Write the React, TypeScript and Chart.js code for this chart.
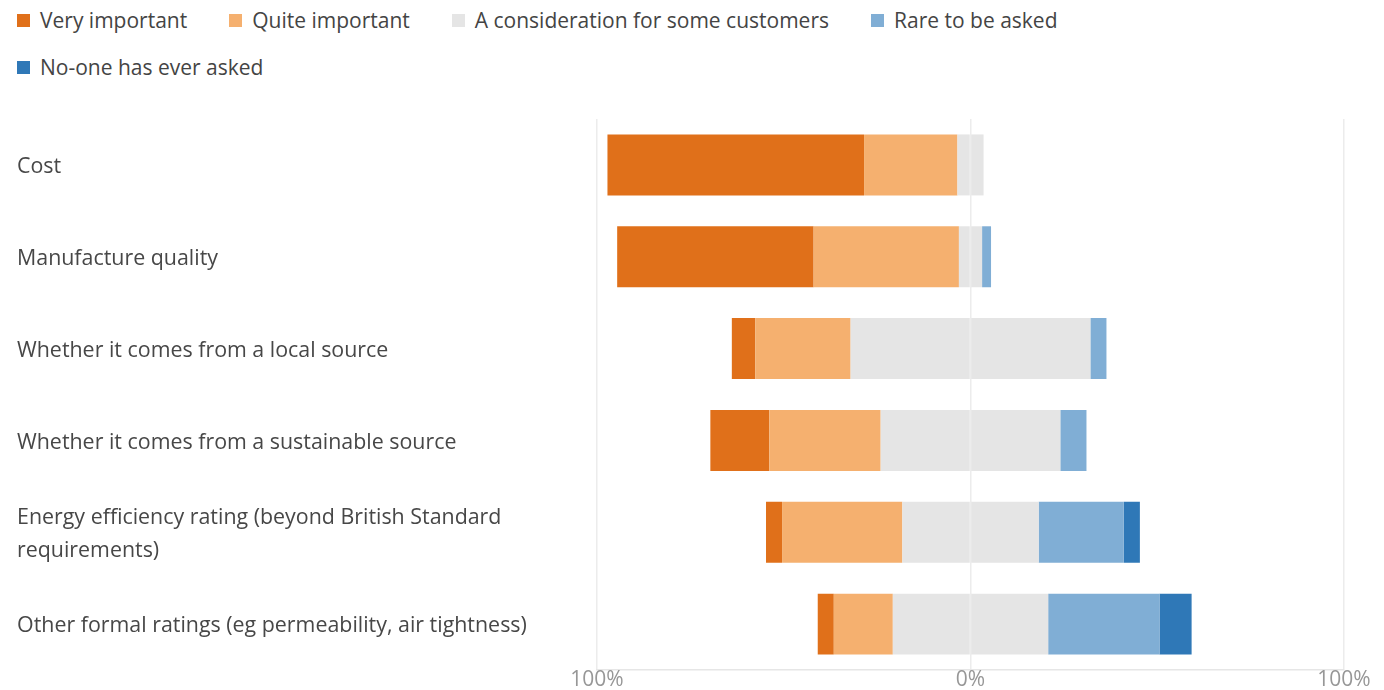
import React, { useEffect, useRef } from 'react';
import { Chart, registerables } from 'chart.js';

Chart.register(...registerables);

const categories: (string | string[])[] = [
  'Cost',
  'Manufacture quality',
  'Whether it comes from a local source',
  'Whether it comes from a sustainable source',
  ['Energy efficiency rating (beyond British Standard', 'requirements)'],
  'Other formal ratings (eg permeability, air tightness)',
];

const seriesNames = [
  'Very important',
  'Quite important',
  'A consideration for some customers',
  'Rare to be asked',
  'No-one has ever asked',
];

const seriesColors = ['#E0701A', '#F5B06F', '#E5E5E5', '#80AED5', '#2F78B7'];

// percentages
const veryImportant = [68.7, 52.6, 6.3, 15.8, 4.3, 4.3];
const quiteImportant = [25.0, 38.9, 25.5, 29.8, 32.2, 15.8];
const consideration = [7.0, 6.2, 64.2, 48.1, 36.5, 41.6];
const rareToBeAsked = [0, 2.4, 4.3, 7.0, 22.8, 29.8];
const noOneAsked = [0, 0, 0, 0, 4.3, 8.6];

const xTickValues = [-100, 0, 100];

const FONT = '"Open Sans", "Noto Sans", "DejaVu Sans", sans-serif';

export default function App() {
  const canvasRef = useRef<HTMLCanvasElement>(null);

  useEffect(() => {
    const canvas = canvasRef.current;
    if (!canvas) return;
    const half = consideration.map((v) => v / 2);
    const chart = new Chart(canvas, {
      type: 'bar',
      data: {
        labels: categories as any,
        datasets: [
          { label: seriesNames[2], data: half.map((v) => -v), backgroundColor: seriesColors[2] },
          { label: seriesNames[2], data: half, backgroundColor: seriesColors[2] },
          { label: seriesNames[1], data: quiteImportant.map((v) => -v), backgroundColor: seriesColors[1] },
          { label: seriesNames[0], data: veryImportant.map((v) => -v), backgroundColor: seriesColors[0] },
          { label: seriesNames[3], data: rareToBeAsked, backgroundColor: seriesColors[3] },
          { label: seriesNames[4], data: noOneAsked, backgroundColor: seriesColors[4] },
        ],
      },
      options: {
        indexAxis: 'y',
        animation: false,
        responsive: true,
        maintainAspectRatio: false,
        layout: { padding: { left: 9, right: 32, top: 21, bottom: 0 } },
        datasets: {
          bar: { categoryPercentage: 1, barPercentage: 0.664, borderWidth: 0 },
        },
        plugins: {
          legend: { display: false },
          tooltip: { enabled: false },
        },
        scales: {
          x: {
            stacked: true,
            min: -100,
            max: 100,
            afterBuildTicks: (scale: any) => {
              scale.ticks = xTickValues.map((v) => ({ value: v }));
            },
            ticks: {
              callback: (v: any) => Math.abs(Number(v)) + '%',
              color: '#979797',
              font: { family: FONT, size: 21, lineHeight: 0.95 },
              padding: 0,
              maxRotation: 0,
            },
            grid: { color: '#ececec', lineWidth: 1.5, drawTicks: false },
            border: { color: '#e6e6e6', width: 1.5 },
          },
          y: {
            stacked: true,
            grid: { display: false, drawTicks: false },
            border: { display: false },
            ticks: {
              crossAlign: 'far',
              color: '#474747',
              font: { family: FONT, size: 21.4, lineHeight: 1.52 },
              padding: 0,
              labelOffset: 2,
            },
            afterFit: (scale: any) => {
              scale.width = 580;
            },
          },
        },
      } as any,
    });
    return () => chart.destroy();
  }, []);

  return (
    <div style={{ fontFamily: FONT }}>
      <div
        style={{
          height: 90,
          width: 1150,
          boxSizing: 'border-box',
          paddingLeft: 9,
          display: 'flex',
          flexWrap: 'wrap',
          alignContent: 'flex-start',
          rowGap: 23,
        }}
      >
        {seriesNames.map((name, i) => (
          <div
            key={name}
            style={{ display: 'flex', alignItems: 'center', height: 24, marginRight: 42 }}
          >
            <span
              style={{
                display: 'inline-block',
                width: 13,
                height: 13,
                background: seriesColors[i],
                marginRight: 10,
              }}
            />
            <span style={{ fontSize: 21, lineHeight: '24px', color: '#444444', whiteSpace: 'nowrap' }}>
              {name}
            </span>
          </div>
        ))}
      </div>
      <div style={{ position: 'relative', height: 592 }}>
        <canvas ref={canvasRef} />
      </div>
    </div>
  );
}
